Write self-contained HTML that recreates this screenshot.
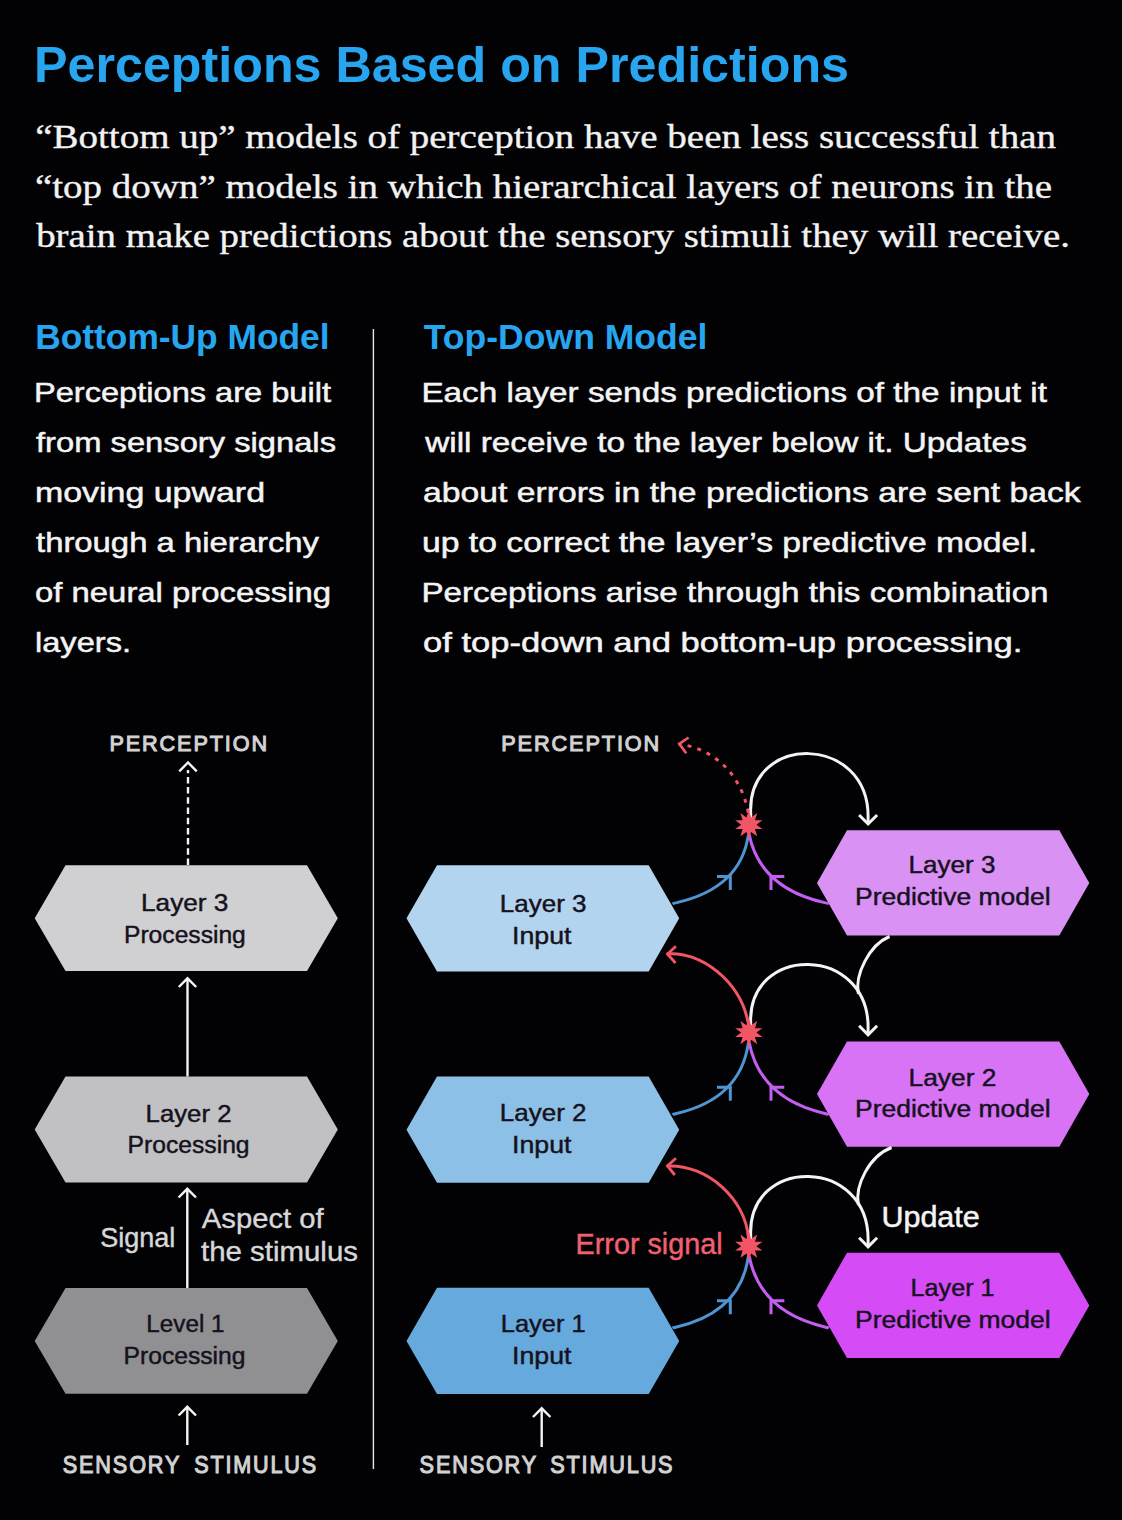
<!DOCTYPE html>
<html><head><meta charset="utf-8"><title>Perceptions Based on Predictions</title>
<style>
html,body{margin:0;padding:0;background:#020205;}
body{width:1122px;height:1520px;overflow:hidden;}
svg{display:block;}
</style></head><body>
<svg width="1122" height="1520" viewBox="0 0 1122 1520">
<rect width="1122" height="1520" fill="#020205"/>
<text x="34.00" y="82.00" font-size="50" font-weight="bold" fill="#27a5ef" font-family='"Liberation Sans", sans-serif' textLength="815.00" lengthAdjust="spacingAndGlyphs" >Perceptions Based on Predictions</text>
<text x="35.20" y="147.60" font-size="33.5" font-weight="normal" fill="#f2f2f2" font-family='"Liberation Serif", serif' textLength="1020.80" lengthAdjust="spacingAndGlyphs" stroke="#f2f2f2" stroke-width="0.35">“Bottom up” models of perception have been less successful than</text>
<text x="35.00" y="197.60" font-size="33.5" font-weight="normal" fill="#f2f2f2" font-family='"Liberation Serif", serif' textLength="1017.00" lengthAdjust="spacingAndGlyphs" stroke="#f2f2f2" stroke-width="0.35">“top down” models in which hierarchical layers of neurons in the</text>
<text x="36.20" y="247.30" font-size="33.5" font-weight="normal" fill="#f2f2f2" font-family='"Liberation Serif", serif' textLength="1033.80" lengthAdjust="spacingAndGlyphs" stroke="#f2f2f2" stroke-width="0.35">brain make predictions about the sensory stimuli they will receive.</text>
<text x="35.20" y="348.80" font-size="34.5" font-weight="bold" fill="#27a5ef" font-family='"Liberation Sans", sans-serif' textLength="294.40" lengthAdjust="spacingAndGlyphs" >Bottom-Up Model</text>
<text x="423.80" y="348.80" font-size="34.5" font-weight="bold" fill="#27a5ef" font-family='"Liberation Sans", sans-serif' textLength="283.60" lengthAdjust="spacingAndGlyphs" >Top-Down Model</text>
<text x="34.00" y="402.40" font-size="28.5" font-weight="normal" fill="#f4f4f4" font-family='"Liberation Sans", sans-serif' textLength="297.00" lengthAdjust="spacingAndGlyphs" stroke="#f4f4f4" stroke-width="0.5">Perceptions are built</text>
<text x="36.00" y="452.40" font-size="28.5" font-weight="normal" fill="#f4f4f4" font-family='"Liberation Sans", sans-serif' textLength="300.00" lengthAdjust="spacingAndGlyphs" stroke="#f4f4f4" stroke-width="0.5">from sensory signals</text>
<text x="35.00" y="502.40" font-size="28.5" font-weight="normal" fill="#f4f4f4" font-family='"Liberation Sans", sans-serif' textLength="230.00" lengthAdjust="spacingAndGlyphs" stroke="#f4f4f4" stroke-width="0.5">moving upward</text>
<text x="36.00" y="552.40" font-size="28.5" font-weight="normal" fill="#f4f4f4" font-family='"Liberation Sans", sans-serif' textLength="283.00" lengthAdjust="spacingAndGlyphs" stroke="#f4f4f4" stroke-width="0.5">through a hierarchy</text>
<text x="35.00" y="602.40" font-size="28.5" font-weight="normal" fill="#f4f4f4" font-family='"Liberation Sans", sans-serif' textLength="296.00" lengthAdjust="spacingAndGlyphs" stroke="#f4f4f4" stroke-width="0.5">of neural processing</text>
<text x="35.00" y="652.40" font-size="28.5" font-weight="normal" fill="#f4f4f4" font-family='"Liberation Sans", sans-serif' textLength="96.00" lengthAdjust="spacingAndGlyphs" stroke="#f4f4f4" stroke-width="0.5">layers.</text>
<text x="421.40" y="402.40" font-size="28.5" font-weight="normal" fill="#f4f4f4" font-family='"Liberation Sans", sans-serif' textLength="625.60" lengthAdjust="spacingAndGlyphs" stroke="#f4f4f4" stroke-width="0.5">Each layer sends predictions of the input it</text>
<text x="425.20" y="452.40" font-size="28.5" font-weight="normal" fill="#f4f4f4" font-family='"Liberation Sans", sans-serif' textLength="601.60" lengthAdjust="spacingAndGlyphs" stroke="#f4f4f4" stroke-width="0.5">will receive to the layer below it. Updates</text>
<text x="423.00" y="502.40" font-size="28.5" font-weight="normal" fill="#f4f4f4" font-family='"Liberation Sans", sans-serif' textLength="657.60" lengthAdjust="spacingAndGlyphs" stroke="#f4f4f4" stroke-width="0.5">about errors in the predictions are sent back</text>
<text x="422.00" y="552.40" font-size="28.5" font-weight="normal" fill="#f4f4f4" font-family='"Liberation Sans", sans-serif' textLength="615.20" lengthAdjust="spacingAndGlyphs" stroke="#f4f4f4" stroke-width="0.5">up to correct the layer’s predictive model.</text>
<text x="421.40" y="602.40" font-size="28.5" font-weight="normal" fill="#f4f4f4" font-family='"Liberation Sans", sans-serif' textLength="627.20" lengthAdjust="spacingAndGlyphs" stroke="#f4f4f4" stroke-width="0.5">Perceptions arise through this combination</text>
<text x="423.00" y="652.40" font-size="28.5" font-weight="normal" fill="#f4f4f4" font-family='"Liberation Sans", sans-serif' textLength="599.40" lengthAdjust="spacingAndGlyphs" stroke="#f4f4f4" stroke-width="0.5">of top-down and bottom-up processing.</text>
<rect x="372.7" y="329" width="1.4" height="1140" fill="#e8e8e8"/>
<text x="109.40" y="750.70" font-size="22.9" font-weight="normal" fill="#d2d2d2" font-family='"Liberation Sans", sans-serif' textLength="159.60" lengthAdjust="spacingAndGlyphs" stroke="#d2d2d2" stroke-width="1.1" letter-spacing="2">PERCEPTION</text>
<line x1="188" y1="865" x2="188" y2="770" stroke="#f4f4f4" stroke-width="2.4" stroke-dasharray="6.5 3.7"/>
<polyline points="179.3,771.3 188,762.5 196.7,771.3" fill="none" stroke="#f4f4f4" stroke-width="2.4"/>
<polygon points="34.70,918.15 65.50,865.20 307.00,865.20 337.80,918.15 307.00,971.10 65.50,971.10" fill="#d0d0d2"/>
<text x="141.00" y="910.60" font-size="24.4" font-weight="normal" fill="#15111d" font-family='"Liberation Sans", sans-serif' textLength="87.40" lengthAdjust="spacingAndGlyphs" stroke="#15111d" stroke-width="0.45">Layer 3</text>
<text x="124.00" y="943.00" font-size="24.4" font-weight="normal" fill="#15111d" font-family='"Liberation Sans", sans-serif' textLength="121.80" lengthAdjust="spacingAndGlyphs" stroke="#15111d" stroke-width="0.45">Processing</text>
<line x1="187.5" y1="1076.6" x2="187.5" y2="978.5" stroke="#f4f4f4" stroke-width="2.4"/>
<polyline points="178.80,987.00 187.5,978.30 196.20,987.00" fill="none" stroke="#f4f4f4" stroke-width="2.4"/>
<polygon points="34.70,1129.55 65.50,1076.60 307.00,1076.60 337.80,1129.55 307.00,1182.50 65.50,1182.50" fill="#c1c1c3"/>
<text x="145.60" y="1121.60" font-size="24.4" font-weight="normal" fill="#15111d" font-family='"Liberation Sans", sans-serif' textLength="85.90" lengthAdjust="spacingAndGlyphs" stroke="#15111d" stroke-width="0.45">Layer 2</text>
<text x="127.50" y="1153.30" font-size="24.4" font-weight="normal" fill="#15111d" font-family='"Liberation Sans", sans-serif' textLength="122.10" lengthAdjust="spacingAndGlyphs" stroke="#15111d" stroke-width="0.45">Processing</text>
<line x1="187.3" y1="1288" x2="187.3" y2="1189" stroke="#f4f4f4" stroke-width="2.4"/>
<polyline points="178.60,1197.50 187.3,1188.80 196.00,1197.50" fill="none" stroke="#f4f4f4" stroke-width="2.4"/>
<text x="100.20" y="1247.40" font-size="28" font-weight="normal" fill="#d8d8d8" font-family='"Liberation Sans", sans-serif' textLength="75.20" lengthAdjust="spacingAndGlyphs" stroke="#d8d8d8" stroke-width="0.4">Signal</text>
<text x="201.80" y="1227.90" font-size="28" font-weight="normal" fill="#d8d8d8" font-family='"Liberation Sans", sans-serif' textLength="121.80" lengthAdjust="spacingAndGlyphs" stroke="#d8d8d8" stroke-width="0.4">Aspect of</text>
<text x="201.00" y="1261.10" font-size="28" font-weight="normal" fill="#d8d8d8" font-family='"Liberation Sans", sans-serif' textLength="157.00" lengthAdjust="spacingAndGlyphs" stroke="#d8d8d8" stroke-width="0.4">the stimulus</text>
<polygon points="34.70,1340.90 65.50,1288.00 307.00,1288.00 337.80,1340.90 307.00,1393.80 65.50,1393.80" fill="#909092"/>
<text x="146.30" y="1331.60" font-size="24.4" font-weight="normal" fill="#15111d" font-family='"Liberation Sans", sans-serif' textLength="78.20" lengthAdjust="spacingAndGlyphs" stroke="#15111d" stroke-width="0.45">Level 1</text>
<text x="123.60" y="1364.20" font-size="24.4" font-weight="normal" fill="#15111d" font-family='"Liberation Sans", sans-serif' textLength="121.90" lengthAdjust="spacingAndGlyphs" stroke="#15111d" stroke-width="0.45">Processing</text>
<line x1="187.3" y1="1445" x2="187.3" y2="1407" stroke="#f4f4f4" stroke-width="2.4"/>
<polyline points="178.60,1415.50 187.3,1406.80 196.00,1415.50" fill="none" stroke="#f4f4f4" stroke-width="2.4"/>
<text x="62.80" y="1472.50" font-size="23.6" font-weight="normal" fill="#d2d2d2" font-family='"Liberation Sans", sans-serif' textLength="118.40" lengthAdjust="spacingAndGlyphs" stroke="#d2d2d2" stroke-width="1.1" letter-spacing="2">SENSORY</text>
<text x="194.20" y="1472.50" font-size="23.6" font-weight="normal" fill="#d2d2d2" font-family='"Liberation Sans", sans-serif' textLength="123.80" lengthAdjust="spacingAndGlyphs" stroke="#d2d2d2" stroke-width="1.1" letter-spacing="2">STIMULUS</text>
<text x="501.20" y="750.70" font-size="22.9" font-weight="normal" fill="#d2d2d2" font-family='"Liberation Sans", sans-serif' textLength="160.00" lengthAdjust="spacingAndGlyphs" stroke="#d2d2d2" stroke-width="1.1" letter-spacing="2">PERCEPTION</text>
<polygon points="406.50,918.30 437.00,865.20 648.70,865.20 679.20,918.30 648.70,971.40 437.00,971.40" fill="#b3d4ee"/>
<text x="499.80" y="911.90" font-size="24.4" font-weight="normal" fill="#15111d" font-family='"Liberation Sans", sans-serif' textLength="86.80" lengthAdjust="spacingAndGlyphs" stroke="#15111d" stroke-width="0.45">Layer 3</text>
<text x="512.00" y="943.70" font-size="24.4" font-weight="normal" fill="#15111d" font-family='"Liberation Sans", sans-serif' textLength="59.40" lengthAdjust="spacingAndGlyphs" stroke="#15111d" stroke-width="0.45">Input</text>
<polygon points="817.00,882.90 847.00,830.20 1059.30,830.20 1089.30,882.90 1059.30,935.60 847.00,935.60" fill="#d992f4"/>
<text x="908.60" y="872.80" font-size="24.4" font-weight="normal" fill="#15111d" font-family='"Liberation Sans", sans-serif' textLength="86.80" lengthAdjust="spacingAndGlyphs" stroke="#15111d" stroke-width="0.45">Layer 3</text>
<text x="855.00" y="904.90" font-size="24.4" font-weight="normal" fill="#15111d" font-family='"Liberation Sans", sans-serif' textLength="195.60" lengthAdjust="spacingAndGlyphs" stroke="#15111d" stroke-width="0.45">Predictive model</text>
<path d="M672.40,903.80 C675.70,901.60 739.50,896.40 748.40,834.65" fill="none" stroke="#4f95d2" stroke-width="3"/>
<polyline points="717.0,876.40 730.3,876.40 730.3,890.00" fill="none" stroke="#4f95d2" stroke-width="3"/>
<path d="M829.00,903.80 C825.70,901.60 761.90,896.40 749.20,834.65" fill="none" stroke="#c45ef0" stroke-width="3"/>
<polyline points="784.3,876.40 771.0,876.40 771.0,890.00" fill="none" stroke="#c45ef0" stroke-width="3"/>
<path d="M750.7,818.65 L750.7,813.00 C747.2,732.40 869.4,733.60 868.1,818.00 L868.1,823.50" fill="none" stroke="#f4f4f4" stroke-width="3"/>
<polyline points="859.1,815.00 868.1,824.00 877.1,815.00" fill="none" stroke="#f4f4f4" stroke-width="3"/>
<path d="M748.3,812.65 C740.8,773 713,748.4 678.5,744" fill="none" stroke="#f25565" stroke-width="3" stroke-dasharray="4 6.2"/>
<polyline points="688.6,737.5 679.3,743.8 686.2,753.3" fill="none" stroke="#f25565" stroke-width="2.7"/>
<polygon points="748.80,810.35 746.45,817.42 740.39,813.08 742.65,820.18 735.20,820.23 741.20,824.65 735.20,829.07 742.65,829.12 740.39,836.22 746.45,831.88 748.80,838.95 751.15,831.88 757.21,836.22 754.95,829.12 762.40,829.07 756.40,824.65 762.40,820.23 754.95,820.18 757.21,813.08 751.15,817.42" fill="#f25565"/>
<polygon points="406.50,1129.70 437.00,1076.60 648.70,1076.60 679.20,1129.70 648.70,1182.80 437.00,1182.80" fill="#8cc0e6"/>
<text x="499.80" y="1121.40" font-size="24.4" font-weight="normal" fill="#15111d" font-family='"Liberation Sans", sans-serif' textLength="86.80" lengthAdjust="spacingAndGlyphs" stroke="#15111d" stroke-width="0.45">Layer 2</text>
<text x="512.00" y="1153.30" font-size="24.4" font-weight="normal" fill="#15111d" font-family='"Liberation Sans", sans-serif' textLength="59.40" lengthAdjust="spacingAndGlyphs" stroke="#15111d" stroke-width="0.45">Input</text>
<polygon points="817.00,1094.10 847.00,1041.40 1059.30,1041.40 1089.30,1094.10 1059.30,1146.80 847.00,1146.80" fill="#d873f6"/>
<text x="908.60" y="1085.70" font-size="24.4" font-weight="normal" fill="#15111d" font-family='"Liberation Sans", sans-serif' textLength="87.80" lengthAdjust="spacingAndGlyphs" stroke="#15111d" stroke-width="0.45">Layer 2</text>
<text x="855.00" y="1117.40" font-size="24.4" font-weight="normal" fill="#15111d" font-family='"Liberation Sans", sans-serif' textLength="195.60" lengthAdjust="spacingAndGlyphs" stroke="#15111d" stroke-width="0.45">Predictive model</text>
<path d="M672.40,1114.60 C675.70,1112.40 739.50,1107.20 748.40,1042.60" fill="none" stroke="#4f95d2" stroke-width="3"/>
<polyline points="717.0,1087.20 730.3,1087.20 730.3,1100.80" fill="none" stroke="#4f95d2" stroke-width="3"/>
<path d="M829.00,1114.60 C825.70,1112.40 761.90,1107.20 749.20,1042.60" fill="none" stroke="#c45ef0" stroke-width="3"/>
<polyline points="784.3,1087.20 771.0,1087.20 771.0,1100.80" fill="none" stroke="#c45ef0" stroke-width="3"/>
<path d="M750.7,1026.60 L750.7,1023.80 C747.2,943.20 869.4,944.40 868.1,1028.80 L868.1,1034.30" fill="none" stroke="#f4f4f4" stroke-width="3"/>
<polyline points="859.1,1025.80 868.1,1034.80 877.1,1025.80" fill="none" stroke="#f4f4f4" stroke-width="3"/>
<path d="M748.3,1023.60 C741,981.7 700.4,950.2 666.5,954" fill="none" stroke="#f25565" stroke-width="3"/>
<polyline points="675.9,946.3 667.5,954.0 675.5,963.0" fill="none" stroke="#f25565" stroke-width="2.8"/>
<path d="M889.5,936.5 C869.4,944.9 854.5,974.6 858.4,994" fill="none" stroke="#f4f4f4" stroke-width="3"/>
<polygon points="748.80,1018.30 746.45,1025.37 740.39,1021.03 742.65,1028.13 735.20,1028.18 741.20,1032.60 735.20,1037.02 742.65,1037.07 740.39,1044.17 746.45,1039.83 748.80,1046.90 751.15,1039.83 757.21,1044.17 754.95,1037.07 762.40,1037.02 756.40,1032.60 762.40,1028.18 754.95,1028.13 757.21,1021.03 751.15,1025.37" fill="#f25565"/>
<polygon points="406.50,1340.90 437.00,1287.80 648.70,1287.80 679.20,1340.90 648.70,1394.00 437.00,1394.00" fill="#66a9dc"/>
<text x="500.80" y="1331.90" font-size="24.4" font-weight="normal" fill="#15111d" font-family='"Liberation Sans", sans-serif' textLength="84.80" lengthAdjust="spacingAndGlyphs" stroke="#15111d" stroke-width="0.45">Layer 1</text>
<text x="512.00" y="1363.80" font-size="24.4" font-weight="normal" fill="#15111d" font-family='"Liberation Sans", sans-serif' textLength="59.40" lengthAdjust="spacingAndGlyphs" stroke="#15111d" stroke-width="0.45">Input</text>
<polygon points="817.00,1305.40 847.00,1252.70 1059.30,1252.70 1089.30,1305.40 1059.30,1358.10 847.00,1358.10" fill="#d54cf7"/>
<text x="910.60" y="1296.10" font-size="24.4" font-weight="normal" fill="#15111d" font-family='"Liberation Sans", sans-serif' textLength="83.90" lengthAdjust="spacingAndGlyphs" stroke="#15111d" stroke-width="0.45">Layer 1</text>
<text x="855.00" y="1327.90" font-size="24.4" font-weight="normal" fill="#15111d" font-family='"Liberation Sans", sans-serif' textLength="195.60" lengthAdjust="spacingAndGlyphs" stroke="#15111d" stroke-width="0.45">Predictive model</text>
<path d="M672.40,1328.10 C675.70,1325.90 739.50,1320.70 748.40,1256.15" fill="none" stroke="#4f95d2" stroke-width="3"/>
<polyline points="717.0,1300.70 730.3,1300.70 730.3,1314.30" fill="none" stroke="#4f95d2" stroke-width="3"/>
<path d="M829.00,1328.10 C825.70,1325.90 761.90,1320.70 749.20,1256.15" fill="none" stroke="#c45ef0" stroke-width="3"/>
<polyline points="784.3,1300.70 771.0,1300.70 771.0,1314.30" fill="none" stroke="#c45ef0" stroke-width="3"/>
<path d="M750.7,1240.15 L750.7,1235.80 C747.2,1155.20 869.4,1156.40 868.1,1240.80 L868.1,1246.30" fill="none" stroke="#f4f4f4" stroke-width="3"/>
<polyline points="859.1,1237.80 868.1,1246.80 877.1,1237.80" fill="none" stroke="#f4f4f4" stroke-width="3"/>
<path d="M748.3,1237.15 C745.7,1200.2 707.8,1163.7 666.5,1166" fill="none" stroke="#f25565" stroke-width="3"/>
<polyline points="675.9,1158.3 667.5,1166.0 674.8,1175.0" fill="none" stroke="#f25565" stroke-width="2.8"/>
<path d="M891.6,1147.5 C869.4,1155.9 854.5,1185.6 858.4,1205" fill="none" stroke="#f4f4f4" stroke-width="3"/>
<polygon points="748.80,1231.85 746.45,1238.92 740.39,1234.58 742.65,1241.68 735.20,1241.73 741.20,1246.15 735.20,1250.57 742.65,1250.62 740.39,1257.72 746.45,1253.38 748.80,1260.45 751.15,1253.38 757.21,1257.72 754.95,1250.62 762.40,1250.57 756.40,1246.15 762.40,1241.73 754.95,1241.68 757.21,1234.58 751.15,1238.92" fill="#f25565"/>
<text x="575.60" y="1253.70" font-size="29.5" font-weight="normal" fill="#f26070" font-family='"Liberation Sans", sans-serif' textLength="147.00" lengthAdjust="spacingAndGlyphs" stroke="#f26070" stroke-width="0.4">Error signal</text>
<text x="881.40" y="1227.00" font-size="29.5" font-weight="normal" fill="#f4f4f4" font-family='"Liberation Sans", sans-serif' textLength="98.40" lengthAdjust="spacingAndGlyphs" stroke="#f4f4f4" stroke-width="0.5">Update</text>
<line x1="541.7" y1="1447" x2="541.7" y2="1408.5" stroke="#f4f4f4" stroke-width="2.4"/>
<polyline points="533.00,1417.00 541.7,1408.30 550.40,1417.00" fill="none" stroke="#f4f4f4" stroke-width="2.4"/>
<text x="419.60" y="1472.50" font-size="23.6" font-weight="normal" fill="#d2d2d2" font-family='"Liberation Sans", sans-serif' textLength="118.40" lengthAdjust="spacingAndGlyphs" stroke="#d2d2d2" stroke-width="1.1" letter-spacing="2">SENSORY</text>
<text x="550.20" y="1472.50" font-size="23.6" font-weight="normal" fill="#d2d2d2" font-family='"Liberation Sans", sans-serif' textLength="124.20" lengthAdjust="spacingAndGlyphs" stroke="#d2d2d2" stroke-width="1.1" letter-spacing="2">STIMULUS</text>
</svg>
</body></html>
